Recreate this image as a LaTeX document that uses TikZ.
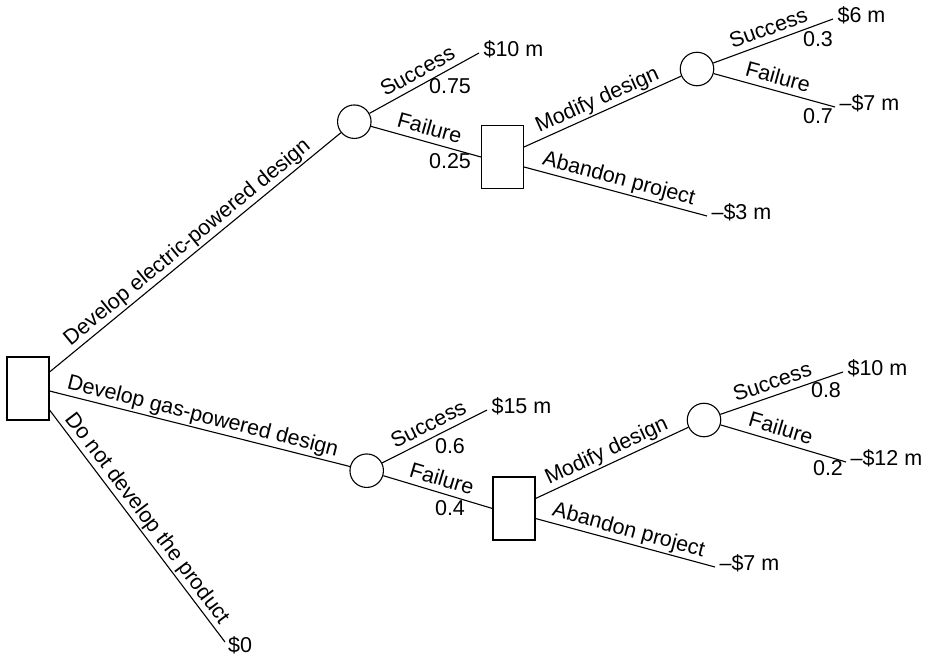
\documentclass[tikz,border=0pt]{standalone}
\usepackage{fontspec}
\setmainfont{Liberation Sans}

\begin{document}
\begin{tikzpicture}[x=1pt, y=-1pt, line width=1.1pt,
    font=\fontsize{21.5}{26}\selectfont,
    decision/.style={draw, minimum width=42pt, minimum height=63pt, inner sep=0pt},
    chance/.style={draw, circle, minimum size=33.5pt, inner sep=0pt},
    value/.style={anchor=west, inner sep=4pt, text height=0.72em, text depth=0pt},
    prob/.style={inner sep=0pt, text height=0.72em, text depth=0pt},
    branch/.style={sloped, above, inner sep=4pt, text height=0.72em, text depth=0.21em}]
  \useasboundingbox (0,0) rectangle (935,667);

  % Decision and chance nodes
  \node[decision] (root) at (28,388.5) {};
  \node[chance] (elec) at (354.3,121.7) {};
  \node[decision] (elecfix) at (502.5,157) {};
  \node[chance] (elecmod) at (697,69) {};
  \node[chance] (gas) at (366.7,470.7) {};
  \node[decision] (gasfix) at (514,508.5) {};
  \node[chance] (gasmod) at (704,420) {};

  % Payoffs
  \node[value] (v1) at (479,53) {\$10 m};
  \node[value] (v2) at (833,19) {\$6 m};
  \node[value] (v3) at (835,107) {--\$7 m};
  \node[value] (v4) at (707,216) {--\$3 m};
  \node[value] (v5) at (487,410) {\$15 m};
  \node[value] (v6) at (843,372) {\$10 m};
  \node[value] (v7) at (846,462) {--\$12 m};
  \node[value] (v8) at (715,567) {--\$7 m};
  \node[value, anchor=north west, inner sep=2.5pt] (v9) at (225,642) {\$0};

  % Probabilities
  \node[prob] (p1) at (450,90) {0.75};
  \node[prob] (p2) at (450,165) {0.25};
  \node[prob] (p3) at (818,43) {0.3};
  \node[prob] (p4) at (818,120) {0.7};
  \node[prob] (p5) at (450,450) {0.6};
  \node[prob] (p6) at (450,512) {0.4};
  \node[prob] (p7) at (826,394) {0.8};
  \node[prob] (p8) at (828,472) {0.2};

  % First decision
  \draw ([yshift=16.5pt]root.east) -- node[branch] {Develop electric-powered design} (elec);
  \draw ([yshift=-2.5pt]root.east) -- node[branch] {Develop gas-powered design} (gas);
  \draw ([yshift=-21.5pt]root.east) -- node[branch] {Do not develop the product} (v9.north west);

  % Electric branch
  \draw (elec) -- node[branch] {Success} (v1.west);
  \draw (elec) -- node[branch] {Failure} (elecfix.west);
  \draw ([yshift=10pt]elecfix.east) -- node[branch] {Modify design} (elecmod);
  \draw ([yshift=-10pt]elecfix.east) -- node[branch] {Abandon project} (v4.west);
  \draw (elecmod) -- node[branch] {Success} (v2.west);
  \draw (elecmod) -- node[branch] {Failure} (v3.west);

  % Gas branch
  \draw (gas) -- node[branch] {Success} (v5.west);
  \draw (gas) -- node[branch] {Failure} (gasfix.west);
  \draw ([yshift=10pt]gasfix.east) -- node[branch] {Modify design} (gasmod);
  \draw ([yshift=-10pt]gasfix.east) -- node[branch] {Abandon project} (v8.west);
  \draw (gasmod) -- node[branch, pos=0.46] {Success} (v6.west);
  \draw (gasmod) -- node[branch, pos=0.45] {Failure} (v7.west);
\end{tikzpicture}
\end{document}
